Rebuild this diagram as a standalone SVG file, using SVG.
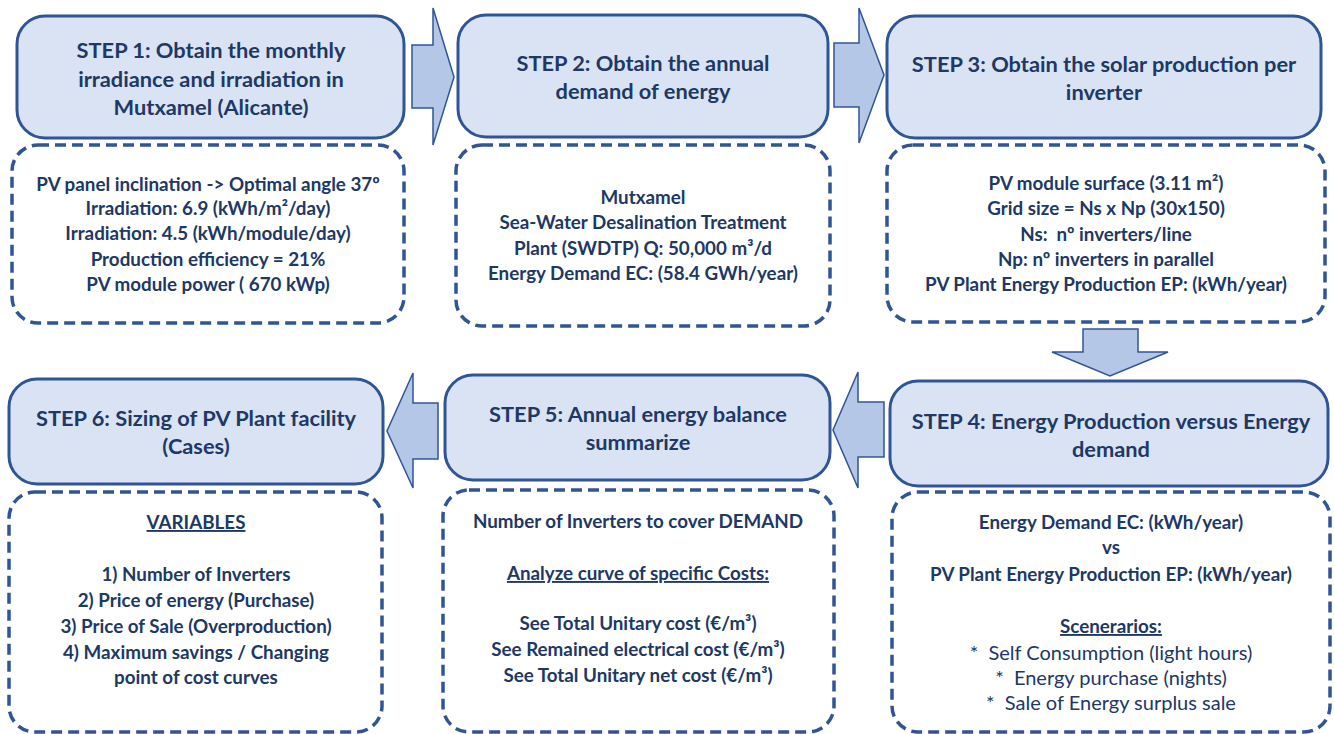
<svg xmlns="http://www.w3.org/2000/svg" width="1334" height="734" viewBox="0 0 1334 734">
<style>
.hdr{fill:#DAE3F3;stroke:#2F5597;stroke-width:3}
.body{fill:#FFFFFF;stroke:#2F5597;stroke-width:3.5;stroke-dasharray:11 6}
.arr{fill:#B4C7E7;stroke:#2F5597;stroke-width:1.5}
text{font-family:Lato,"Open Sans","Liberation Sans",sans-serif;fill:#203864;text-anchor:middle}
.h{font-size:21.8px;font-weight:bold}
.b{font-size:18.8px;font-weight:bold}
.r{font-size:20px;font-weight:normal}
.u{text-decoration:underline}
</style>
<rect width="1334" height="734" fill="#FFFFFF"/>
<g id="connectors">
<path class="arr" d="M412,45 H433 V8 L454,77 L433,145 V108 H412 Z"/>
<path class="arr" d="M834,43 H859 V8 L884,75 L859,143 V107 H834 Z"/>
<path class="arr" d="M1083,329 H1138 V352 H1168 L1110,376 L1052,352 H1083 Z"/>
<path class="arr" d="M884,402 H858 V372 L833,430 L858,488 V457 H884 Z"/>
<path class="arr" d="M438,403 H413 V373 L387,431 L413,488 V459 H438 Z"/>
</g>
<g id="step1">
<rect class="hdr" x="17" y="16" width="387" height="122" rx="28"/>
<text class="h" x="211" y="58">STEP 1: Obtain the monthly</text>
<text class="h" x="211" y="87">irradiance and irradiation in</text>
<text class="h" x="211" y="115">Mutxamel (Alicante)</text>
</g>
<g id="step1-detail">
<rect class="body" x="12" y="145" width="392" height="178" rx="26"/>
<text class="b" x="208" y="191">PV panel inclination -&gt; Optimal angle 37º</text>
<text class="b" x="208" y="215">Irradiation: 6.9 (kWh/m²/day)</text>
<text class="b" x="208" y="240">Irradiation: 4.5 (kWh/module/day)</text>
<text class="b" x="208" y="266">Production efficiency = 21%</text>
<text class="b" x="208" y="291">PV module power ( 670 kWp)</text>
</g>
<g id="step2">
<rect class="hdr" x="458" y="15" width="370" height="122" rx="28"/>
<text class="h" x="643" y="71">STEP 2: Obtain the annual</text>
<text class="h" x="643" y="99">demand of energy</text>
</g>
<g id="step2-detail">
<rect class="body" x="456" y="145" width="374" height="181" rx="26"/>
<text class="b" x="643" y="204">Mutxamel</text>
<text class="b" x="643" y="229">Sea-Water Desalination Treatment</text>
<text class="b" x="643" y="255">Plant (SWDTP) Q: 50,000 m³/d</text>
<text class="b" x="643" y="280">Energy Demand EC: (58.4 GWh/year)</text>
</g>
<g id="step3">
<rect class="hdr" x="887" y="16" width="434" height="122" rx="28"/>
<text class="h" x="1104" y="72">STEP 3: Obtain the solar production per</text>
<text class="h" x="1104" y="100">inverter</text>
</g>
<g id="step3-detail">
<rect class="body" x="887" y="145" width="438" height="177" rx="26"/>
<text class="b" x="1106" y="190">PV module surface (3.11 m²)</text>
<text class="b" x="1106" y="215">Grid size = Ns x Np (30x150)</text>
<text class="b" x="1106" y="241" xml:space="preserve">Ns:  nº inverters/line</text>
<text class="b" x="1106" y="266">Np: nº inverters in parallel</text>
<text class="b" x="1106" y="291">PV Plant Energy Production EP: (kWh/year)</text>
</g>
<g id="step4">
<rect class="hdr" x="890" y="381" width="438" height="105" rx="28"/>
<text class="h" x="1111" y="429">STEP 4: Energy Production versus Energy</text>
<text class="h" x="1111" y="457">demand</text>
</g>
<g id="step4-detail">
<rect class="body" x="892" y="492" width="438" height="240" rx="26"/>
<text class="b" x="1111" y="529">Energy Demand EC: (kWh/year)</text>
<text class="b" x="1111" y="554">vs</text>
<text class="b" x="1111" y="581">PV Plant Energy Production EP: (kWh/year)</text>
<text class="b u" x="1111" y="633">Scenerarios:</text>
<text class="r" x="1111" y="660" xml:space="preserve">*  Self Consumption (light hours)</text>
<text class="r" x="1111" y="685" xml:space="preserve">*  Energy purchase (nights)</text>
<text class="r" x="1111" y="710" xml:space="preserve">*  Sale of Energy surplus sale</text>
</g>
<g id="step5">
<rect class="hdr" x="445" y="375" width="385" height="105" rx="28"/>
<text class="h" x="638" y="422">STEP 5: Annual energy balance</text>
<text class="h" x="638" y="450">summarize</text>
</g>
<g id="step5-detail">
<rect class="body" x="443" y="490" width="391" height="242" rx="26"/>
<text class="b" x="638" y="528">Number of Inverters to cover DEMAND</text>
<text class="b u" x="638" y="580">Analyze curve of specific Costs:</text>
<text class="b" x="638" y="630">See Total Unitary cost (€/m³)</text>
<text class="b" x="638" y="656">See Remained electrical cost (€/m³)</text>
<text class="b" x="638" y="682">See Total Unitary net cost (€/m³)</text>
</g>
<g id="step6">
<rect class="hdr" x="9" y="379" width="374" height="105" rx="28"/>
<text class="h" x="196" y="426">STEP 6: Sizing of PV Plant facility</text>
<text class="h" x="196" y="454">(Cases)</text>
</g>
<g id="step6-detail">
<rect class="body" x="9" y="492" width="373" height="240" rx="26"/>
<text class="b u" x="196" y="529">VARIABLES</text>
<text class="b" x="196" y="581">1) Number of Inverters</text>
<text class="b" x="196" y="607">2) Price of energy (Purchase)</text>
<text class="b" x="196" y="633">3) Price of Sale (Overproduction)</text>
<text class="b" x="196" y="659">4) Maximum savings / Changing</text>
<text class="b" x="196" y="684">point of cost curves</text>
</g>
</svg>
